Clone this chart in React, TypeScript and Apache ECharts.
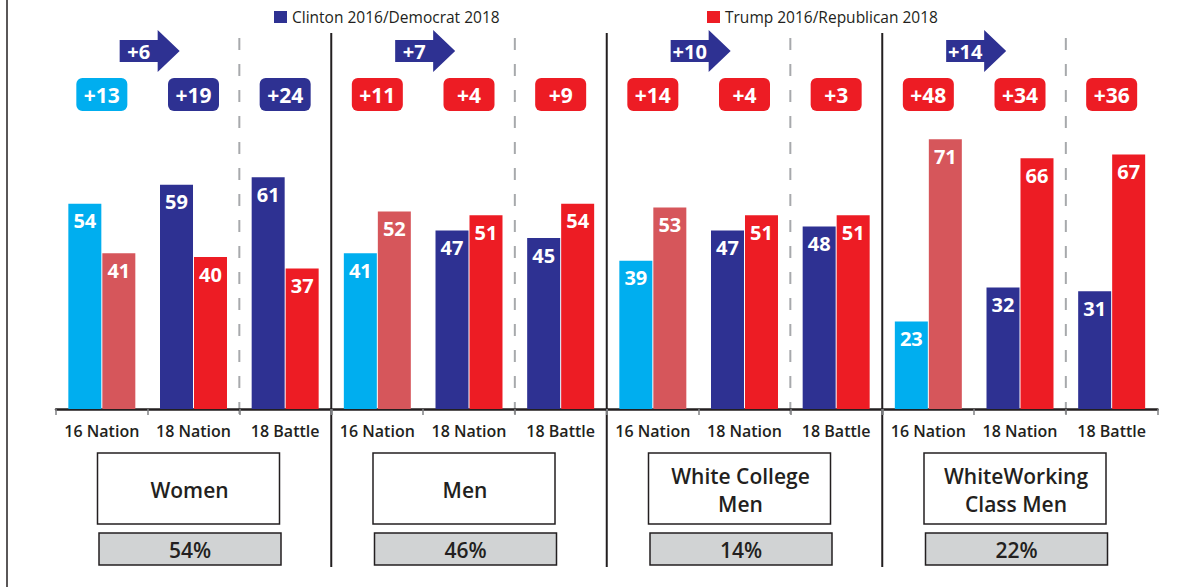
import React, { useEffect, useRef } from 'react';
import * as echarts from 'echarts';

const categories = ['16 Nation', '18 Nation', '18 Battle'];
const groups = ['Women', 'Men', 'White College\nMen', 'WhiteWorking\nClass Men'];
const groupShares = ['54%', '46%', '14%', '22%'];
const demValues = [[54, 59, 61], [41, 47, 45], [39, 47, 48], [23, 32, 31]];
const repValues = [[41, 40, 37], [52, 51, 54], [53, 51, 51], [71, 66, 67]];
const marginValues = [[13, 19, 24], [11, 4, 9], [14, 4, 3], [48, 34, 36]];
const marginLeaders = [['D', 'D', 'D'], ['R', 'R', 'R'], ['R', 'R', 'R'], ['R', 'R', 'R']];
const shiftValues = [6, 7, 10, 14];

const DEM_NAME = 'Clinton 2016/Democrat 2018';
const REP_NAME = 'Trump 2016/Republican 2018';

const DEM = '#2E3192';
const DEM16 = '#00AEEF';
const REP = '#ED1C24';
const REP16 = '#D6565B';
const INK = '#231F20';
const FONT = "'Open Sans', 'Noto Sans', sans-serif";

export default function App() {
  const ref = useRef<HTMLDivElement>(null);

  useEffect(() => {
    if (!ref.current) return;
    const chart = echarts.init(ref.current, null, { renderer: 'svg' });

    const grid = groups.map((_, i) => ({ left: 56 + i * 275.5, width: 275, top: 29, bottom: 178 }));
    const xAxis = groups.map((_, i) => ({
      type: 'category',
      gridIndex: i,
      data: categories,
      axisLine: { lineStyle: { color: INK, width: 2.5 } },
      axisTick: { show: true, length: 6, lineStyle: { color: '#808285', width: 1.5 } },
      axisLabel: {
        interval: 0,
        hideOverlap: false,
        color: INK,
        fontSize: 16,
        fontWeight: 600,
        fontFamily: FONT,
        margin: 14,
      },
    }));
    const yAxis = groups.map((_, i) => ({
      type: 'value',
      gridIndex: i,
      min: 0,
      max: 100,
      show: false,
      splitLine: { show: false },
    }));
    const labelStyle = {
      show: true,
      position: 'insideTop',
      distance: 7,
      color: '#fff',
      fontSize: 20,
      fontWeight: 700,
      fontFamily: FONT,
    };
    const series: any[] = [];
    groups.forEach((_, i) => {
      series.push({
        type: 'bar',
        name: DEM_NAME,
        xAxisIndex: i,
        yAxisIndex: i,
        barWidth: 33,
        barGap: '3%',
        itemStyle: { color: DEM },
        label: labelStyle,
        data: demValues[i].map((v, j) => ({ value: v, itemStyle: { color: j === 0 ? DEM16 : DEM } })),
      });
      series.push({
        type: 'bar',
        name: REP_NAME,
        xAxisIndex: i,
        yAxisIndex: i,
        barWidth: 33,
        barGap: '3%',
        itemStyle: { color: REP },
        label: labelStyle,
        data: repValues[i].map((v, j) => ({ value: v, itemStyle: { color: j === 0 ? REP16 : REP } })),
      });
    });

    const legendText = { color: INK, fontSize: 15.5, fontFamily: FONT };
    const legendBase = { padding: 0, top: 9, icon: 'rect', itemWidth: 13, itemHeight: 12, itemGap: 6, textStyle: legendText, selectedMode: false };
    chart.setOption({
      animation: false,
      backgroundColor: '#fff',
      legend: [
        { ...legendBase, data: [DEM_NAME], left: 274 },
        { ...legendBase, data: [REP_NAME], left: 707 },
      ],
      grid,
      xAxis,
      yAxis,
      series,
    });

    const gfx: any[] = [];
    gfx.push({ type: 'line', shape: { x1: 7, y1: 0, x2: 7, y2: 587 }, style: { stroke: INK, lineWidth: 1.5 } });

    const centers = groups.map((_, i) =>
      categories.map((c) => chart.convertToPixel({ xAxisIndex: i } as any, c) as unknown as number)
    );

    groups.forEach((g, i) => {
      const cx = centers[i];
      if (i > 0) {
        const sx = (centers[i - 1][2] + cx[0]) / 2;
        gfx.push({ type: 'line', shape: { x1: sx, y1: 33, x2: sx, y2: 567 }, style: { stroke: INK, lineWidth: 2 } });
      }
      const dx = (cx[1] + cx[2]) / 2;
      gfx.push({
        type: 'line',
        shape: { x1: dx, y1: 38, x2: dx, y2: 421 },
        style: { stroke: '#A7A9AC', lineWidth: 2, lineDash: [12, 14] },
      });
      cx.forEach((c, j) => {
        const fill = marginLeaders[i][j] === 'D' ? (j === 0 ? DEM16 : DEM) : REP;
        gfx.push({ type: 'rect', shape: { x: c - 25.5, y: 78, width: 51, height: 33, r: 6 }, style: { fill } });
        gfx.push({
          type: 'text',
          x: c,
          y: 95,
          style: { text: '+' + marginValues[i][j], fill: '#fff', fontSize: 21, fontWeight: 700, fontFamily: FONT, align: 'center', verticalAlign: 'middle' },
        });
      });
      const ax = (cx[0] + cx[1]) / 2 - 28;
      gfx.push({
        type: 'polygon',
        shape: { points: [[ax, 40], [ax + 38, 40], [ax + 38, 30], [ax + 60, 51], [ax + 38, 72], [ax + 38, 62], [ax, 62]] },
        style: { fill: DEM },
      });
      gfx.push({
        type: 'text',
        x: ax + 19,
        y: 51.5,
        style: { text: '+' + shiftValues[i], fill: '#fff', fontSize: 20, fontWeight: 700, fontFamily: FONT, align: 'center', verticalAlign: 'middle' },
      });
      const bc = cx[1] - 5;
      gfx.push({ type: 'rect', shape: { x: bc - 91, y: 453, width: 182, height: 71 }, style: { fill: '#fff', stroke: INK, lineWidth: 1.5 } });
      gfx.push({
        type: 'text',
        x: bc + 1,
        y: 490,
        style: { text: g, fill: INK, fontSize: 21, fontWeight: 600, fontFamily: FONT, lineHeight: 28, align: 'center', verticalAlign: 'middle' },
      });
      gfx.push({ type: 'rect', shape: { x: bc - 89.5, y: 533, width: 182, height: 32 }, style: { fill: '#D1D3D4', stroke: INK, lineWidth: 1.5 } });
      gfx.push({
        type: 'text',
        x: bc + 1.5,
        y: 550,
        style: { text: groupShares[i], fill: INK, fontSize: 21, fontWeight: 600, fontFamily: FONT, align: 'center', verticalAlign: 'middle' },
      });
    });

    chart.setOption({ graphic: gfx });

    return () => {
      chart.dispose();
    };
  }, []);

  return <div ref={ref} style={{ position: 'fixed', left: 0, top: 0, width: 1193, height: 587 }} />;
}
